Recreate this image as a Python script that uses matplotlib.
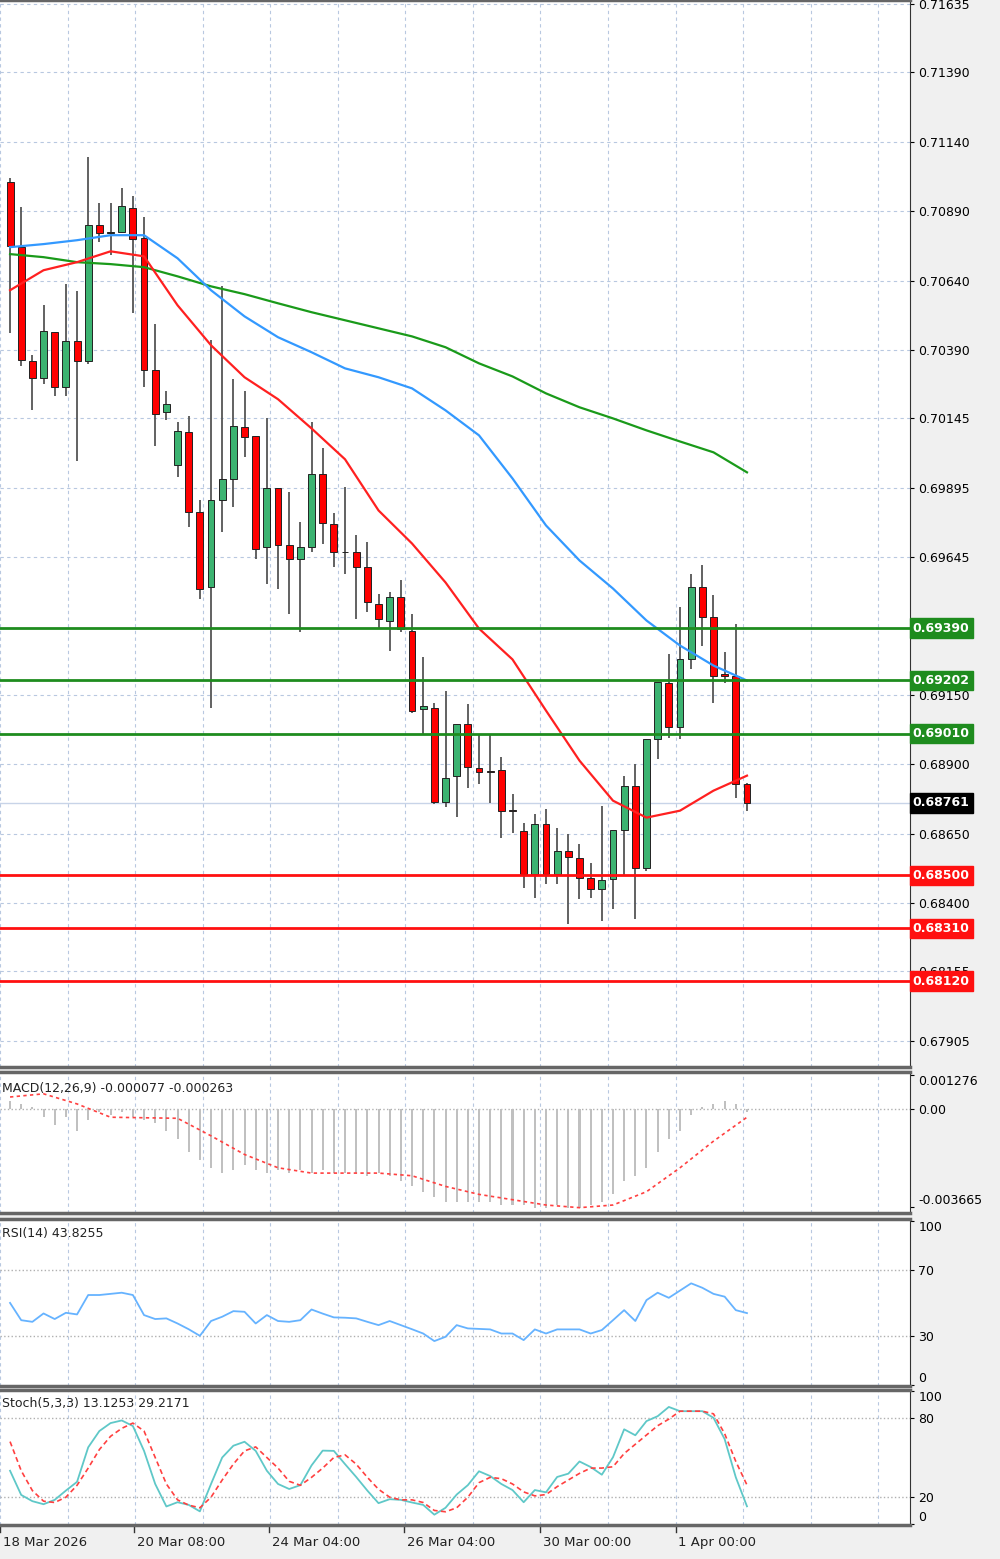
import matplotlib
matplotlib.use("Agg")
import matplotlib.pyplot as plt
import numpy as np

# OHLC per candle
opens = [0.70994, 0.70760, 0.70349, 0.70288, 0.70454, 0.70256, 0.70421, 0.70349, 0.70839, 0.70810,
         0.70814, 0.70900, 0.70792, 0.70317, 0.70166, 0.69975, 0.70094, 0.69809, 0.69539, 0.69849,
         0.69925, 0.70112, 0.70079, 0.69680, 0.69892, 0.69687, 0.69637, 0.69683, 0.69943, 0.69763,
         0.69665, 0.69662, 0.69608, 0.69478, 0.69417, 0.69500, 0.69381, 0.69097, 0.69104, 0.68765,
         0.68859, 0.69046, 0.68888, 0.68877, 0.68880, 0.68737, 0.68661, 0.68506, 0.68686, 0.68506,
         0.68589, 0.68564, 0.68492, 0.68452, 0.68488, 0.68665, 0.68823, 0.68528, 0.68992, 0.69194,
         0.69035, 0.69280, 0.69539, 0.69428, 0.69223, 0.69219, 0.68830]
highs = [0.71008, 0.70904, 0.70371, 0.70551, 0.70454, 0.70627, 0.70601, 0.71084, 0.70918, 0.70918,
         0.70972, 0.70943, 0.70868, 0.70483, 0.70241, 0.70130, 0.70151, 0.69849, 0.70425, 0.70619,
         0.70285, 0.70241, 0.70079, 0.70144, 0.69892, 0.69878, 0.69770, 0.70130, 0.70036, 0.69802,
         0.69896, 0.69723, 0.69698, 0.69514, 0.69521, 0.69561, 0.69439, 0.69284, 0.69122, 0.69165,
         0.69046, 0.69118, 0.69010, 0.69010, 0.68927, 0.68794, 0.68690, 0.68722, 0.68740, 0.68672,
         0.68650, 0.68614, 0.68546, 0.68751, 0.68665, 0.68859, 0.68902, 0.68992, 0.69197, 0.69298,
         0.69464, 0.69586, 0.69615, 0.69507, 0.69302, 0.69406, 0.68834]
lows = [0.70450, 0.70331, 0.70173, 0.70267, 0.70223, 0.70223, 0.69989, 0.70339, 0.70778, 0.70731,
        0.70810, 0.70522, 0.70256, 0.70043, 0.70137, 0.69935, 0.69752, 0.69493, 0.69104, 0.69737,
        0.69824, 0.70004, 0.69640, 0.69550, 0.69529, 0.69442, 0.69377, 0.69662, 0.69694, 0.69608,
        0.69583, 0.69424, 0.69446, 0.69388, 0.69309, 0.69377, 0.69086, 0.69010, 0.68758, 0.68747,
        0.68711, 0.68816, 0.68830, 0.68762, 0.68636, 0.68654, 0.68456, 0.68420, 0.68470, 0.68470,
        0.68326, 0.68416, 0.68420, 0.68337, 0.68380, 0.68499, 0.68344, 0.68517, 0.68920, 0.68996,
        0.68992, 0.69244, 0.69327, 0.69122, 0.69194, 0.68780, 0.68733]
closes = [0.70763, 0.70353, 0.70288, 0.70457, 0.70256, 0.70421, 0.70349, 0.70839, 0.70810, 0.70814,
          0.70907, 0.70789, 0.70317, 0.70159, 0.70195, 0.70097, 0.69806, 0.69529, 0.69849, 0.69925,
          0.70115, 0.70076, 0.69673, 0.69892, 0.69687, 0.69637, 0.69680, 0.69943, 0.69766, 0.69662,
          0.69662, 0.69608, 0.69482, 0.69424, 0.69500, 0.69388, 0.69093, 0.69108, 0.68765, 0.68852,
          0.69046, 0.68891, 0.68873, 0.68873, 0.68733, 0.68733, 0.68506, 0.68686, 0.68506, 0.68589,
          0.68567, 0.68492, 0.68452, 0.68485, 0.68665, 0.68823, 0.68528, 0.68992, 0.69197, 0.69035,
          0.69280, 0.69539, 0.69431, 0.69219, 0.69219, 0.68830, 0.68762]

# moving averages sampled every 3rd candle
ma_idx = list(range(0, 67, 3))
ma_red = [0.70605, 0.70677, 0.70706, 0.70745, 0.70727, 0.70551, 0.70407, 0.70292, 0.70213, 0.70108,
          0.69997, 0.69813, 0.69694, 0.69554, 0.69388, 0.69277, 0.69093, 0.68913, 0.68769, 0.68708,
          0.68733, 0.68805, 0.68859]
ma_blue = [0.70760, 0.70771, 0.70785, 0.70803, 0.70803, 0.70720, 0.70605, 0.70511, 0.70436, 0.70382,
           0.70324, 0.70292, 0.70252, 0.70173, 0.70083, 0.69928, 0.69759, 0.69633, 0.69532, 0.69417,
           0.69327, 0.69255, 0.69201]
ma_green = [0.70735, 0.70724, 0.70706, 0.70699, 0.70688, 0.70655, 0.70619, 0.70591, 0.70558, 0.70526,
            0.70497, 0.70468, 0.70439, 0.70400, 0.70342, 0.70295, 0.70234, 0.70184, 0.70144, 0.70101,
            0.70061, 0.70022, 0.69950]

resistance = [0.69390, 0.69202, 0.69010]
support = [0.68500, 0.68310, 0.68120]
last_price = 0.68761
price_ticks = [0.71635, 0.71390, 0.71140, 0.70890, 0.70640, 0.70390, 0.70145, 0.69895,
               0.69645, 0.69150, 0.68900, 0.68650, 0.68400, 0.68155, 0.67905]

macd_hist = [0.0003, 0.0002, 0.0001, -0.0003, -0.0006, -0.0003, -0.0008, -0.0004, -0.0001, -0.0002,
             -0.0001, -0.0003, -0.0004, -0.0005, -0.0008, -0.0011, -0.0016, -0.0019, -0.0022, -0.0024,
             -0.0023, -0.0021, -0.0023, -0.0024, -0.0023, -0.0024, -0.0023, -0.0024, -0.0023, -0.0024,
             -0.0024, -0.0024, -0.0025, -0.0024, -0.0025, -0.0027, -0.0029, -0.0031, -0.0033, -0.0035,
             -0.0035, -0.0035, -0.0035, -0.0035, -0.0036, -0.0036, -0.0036, -0.0037, -0.0037, -0.0036,
             -0.0037, -0.0037, -0.0036, -0.0035, -0.0032, -0.0027, -0.0025, -0.0022, -0.0016, -0.0011,
             -0.0008, -0.0002, 0.0001, 0.0002, 0.0003, 0.0002, -0.0001]
macd_signal = [0.00046, 0.00058, 0.0002, -0.0003, -0.00032, -0.00034, -0.0010, -0.0017, -0.0022, -0.0024,
               -0.0024, -0.0024, -0.0025, -0.0029, -0.0032, -0.0034, -0.0036, -0.0037, -0.0036, -0.0031,
               -0.0022, -0.0012, -0.0003]

rsi = [50, 39.5, 38.5, 43.6, 40.2, 44, 43, 54.8, 54.8, 55.5, 56.2, 54.8, 42.6, 40.2, 40.6, 37.5, 34, 30,
       39, 41.6, 45, 44.6, 37.5, 42.6, 39, 38.5, 39.5, 46, 43.5, 41.2, 41, 40.6, 38.5, 36.5, 39, 36.5, 34,
       31.4, 26.8, 29.4, 36.5, 34.5, 34.2, 33.9, 31.4, 31.4, 27.4, 33.9, 31.4, 33.9, 33.9, 33.9, 31.4,
       33.5, 39.5, 45.6, 39, 51.7, 56.2, 53.1, 57.5, 61.9, 59.2, 55.5, 53.8, 45.6, 43.8]

stoch_k = [40, 21.7, 17, 14.7, 18, 25, 31.6, 57.7, 70, 76, 78, 73.8, 55, 30, 13, 16.2, 14.2, 9.3, 30, 50,
           58.9, 61.9, 55, 40, 30, 26.2, 29.1, 44, 55.2, 55, 45, 35.3, 25, 15.5, 18.5, 18, 16, 14.2, 6.8,
           12, 22, 29.1, 39.6, 36, 30, 25.4, 16.2, 25.4, 23.7, 35.3, 37.8, 47, 42.8, 37, 50.2, 71.3, 66.8,
           77.5, 81.2, 88.2, 85, 85, 85, 80, 63.9, 35, 13.1]
stoch_d = [62, 40, 25, 17, 16, 20, 29, 42, 56, 66, 72, 76, 70, 50, 30, 18, 14, 12, 20, 33, 45, 55, 58,
           50, 42, 32, 29, 35, 42, 50, 52, 45, 35, 26, 20, 18, 18, 16, 10, 9, 12, 20, 31, 35, 34, 30, 24,
           21, 22, 28, 33, 38, 42, 42, 43, 53, 60, 67, 74, 79, 85, 85, 85, 83, 68, 47, 29.2]

date_pos = [-0.9, 11.1, 23.2, 35.3, 47.5, 59.6]
date_labels = ["18 Mar 2026", "20 Mar 08:00", "24 Mar 04:00", "26 Mar 04:00", "30 Mar 00:00", "1 Apr 00:00"]

W, H = 1000, 1559
fig = plt.figure(figsize=(W / 100, H / 100), dpi=100)
fig.patch.set_facecolor("#f0f0f0")

XMIN, XMAX = -0.625, 80.6
AX_W = 910 / W


def make_ax(top_px, bot_px):
    ax = fig.add_axes([0, 1 - bot_px / H, AX_W, (bot_px - top_px) / H])
    ax.set_facecolor("white")
    ax.set_xlim(XMIN, XMAX)
    ax.yaxis.tick_right()
    ax.tick_params(axis="y", length=3, labelsize=9, pad=3)
    ax.tick_params(axis="x", length=0, labelbottom=False)
    ax.set_xticks(np.arange(-0.9, 81, 6.05))
    ax.grid(True, axis="x", color="#b8c8e0", linestyle=(0, (3, 3)), linewidth=0.8)
    for s in ["top", "bottom"]:
        ax.spines[s].set_color("#666666")
        ax.spines[s].set_linewidth(2.5)
    ax.spines["left"].set_visible(False)
    ax.spines["right"].set_color("#333333")
    return ax


def edge_labels(ax):
    # keep outer tick labels inside the panel, like the terminal does
    labels = ax.get_yticklabels()
    labels[0].set_va("bottom")
    labels[-1].set_va("top")


# --- main price panel
ax = make_ax(0, 1067)
ax.set_ylim(0.67811, 0.71649)
ax.set_yticks(price_ticks)
ax.set_yticklabels([f"{t:.5f}" for t in price_ticks])
for t in price_ticks:
    ax.axhline(t, color="#b8c8e0", linestyle=(0, (3, 3)), linewidth=0.8, zorder=0)

idx = np.arange(len(opens))
up = np.array(closes) >= np.array(opens)
ax.vlines(idx, lows, highs, color="#555555", linewidth=1.3, zorder=3)
body_bot = np.minimum(opens, closes)
body_h = np.maximum(np.abs(np.array(closes) - np.array(opens)), 0.00003)
ax.bar(idx, body_h, bottom=body_bot, width=0.62,
       color=np.where(up, "#3cb371", "#ff0000"), edgecolor="#222222", linewidth=0.7, zorder=4)

ax.plot(ma_idx, ma_green, color="#1a9a1a", linewidth=1.6, zorder=5)
ax.plot(ma_idx, ma_blue, color="#3399ff", linewidth=1.6, zorder=5)
ax.plot(ma_idx, ma_red, color="#ff2020", linewidth=1.6, zorder=5)

ax.axhline(last_price, color="#c8d4e8", linewidth=1.0, zorder=1)
for lv in resistance:
    ax.axhline(lv, color="#1e8c1e", linewidth=2, zorder=6)
for lv in support:
    ax.axhline(lv, color="#ff1010", linewidth=2, zorder=6)


def price_box(val, fc):
    ax.text(1.003, val, f"{val:.5f}", transform=ax.get_yaxis_transform(), ha="left", va="center",
            fontsize=9, color="white", fontweight="bold", zorder=10, clip_on=False,
            bbox=dict(boxstyle="square,pad=0.25", facecolor=fc, edgecolor=fc))


for lv in resistance:
    price_box(lv, "#1e8c1e")
for lv in support:
    price_box(lv, "#ff1010")
price_box(last_price, "#000000")

# --- MACD panel
ax1 = make_ax(1072, 1213)
ax1.set_ylim(-0.0039, 0.0014)
ax1.set_yticks([-0.003665, 0.0, 0.001276])
ax1.set_yticklabels(["-0.003665", "0.00", "0.001276"])
edge_labels(ax1)
ax1.axhline(0, color="#b0b0b0", linestyle=":", linewidth=1)
ax1.bar(idx, macd_hist, width=0.18, color="#c0c0c0", zorder=2)
ax1.plot(ma_idx, macd_signal, color="#ff4040", linestyle=(0, (2, 2)), linewidth=1.2, zorder=3)
ax1.text(0.002, 0.93, "MACD(12,26,9) -0.000077 -0.000263", transform=ax1.transAxes,
         fontsize=9, va="top", ha="left", color="#222222")

# --- RSI panel
ax2 = make_ax(1219, 1386)
ax2.set_ylim(-0.5, 101)
ax2.set_yticks([0, 30, 70, 100])
edge_labels(ax2)
for lv in (70, 30):
    ax2.axhline(lv, color="#b0b0b0", linestyle=":", linewidth=1)
ax2.plot(idx, rsi, color="#66b3ff", linewidth=1.3)
ax2.text(0.002, 0.95, "RSI(14) 43.8255", transform=ax2.transAxes,
         fontsize=9, va="top", ha="left", color="#222222")

# --- Stochastic panel
ax3 = make_ax(1390, 1525)
ax3.set_ylim(-1, 101)
ax3.set_yticks([0, 20, 80, 100])
edge_labels(ax3)
for lv in (80, 20):
    ax3.axhline(lv, color="#b0b0b0", linestyle=":", linewidth=1)
ax3.plot(idx, stoch_k, color="#5fc8c8", linewidth=1.3)
ax3.plot(idx, stoch_d, color="#ff4040", linestyle=(0, (3, 2)), linewidth=1.2)
ax3.text(0.002, 0.95, "Stoch(5,3,3) 13.1253 29.2171", transform=ax3.transAxes,
         fontsize=9, va="top", ha="left", color="#222222")

for p, lab in zip(date_pos, date_labels):
    ax3.annotate(lab, xy=(p, 0), xycoords=("data", "axes fraction"), xytext=(2, -8),
                 textcoords="offset points", ha="left", va="top", fontsize=9.5, color="#222222",
                 annotation_clip=False)
    ax3.plot([p, p], [0, -0.05], transform=ax3.get_xaxis_transform(), color="#333333",
             linewidth=1, clip_on=False)

fig.savefig("out.png", dpi=100, facecolor=fig.get_facecolor())
